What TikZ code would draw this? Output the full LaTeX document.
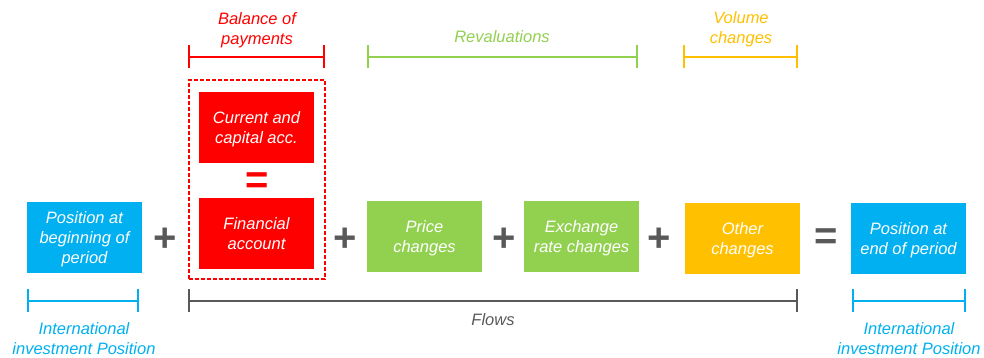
\documentclass[tikz,border=0pt]{standalone}
\usepackage{fontspec}
\setmainfont{Liberation Sans}
\usetikzlibrary{positioning,arrows.meta}
\definecolor{iipblue}{HTML}{00B0F0}
\definecolor{bopred}{HTML}{FF0000}
\definecolor{revgreen}{HTML}{92D050}
\definecolor{volorange}{HTML}{FFC000}
\definecolor{flowgrey}{HTML}{595959}

\begin{document}
\begin{tikzpicture}[x=1pt,y=1pt,line width=2pt,
	box/.style={minimum width=115pt,minimum height=71pt,inner sep=0pt,outer sep=0pt,
		text depth=0pt,align=center,text=white,font=\itshape\fontsize{16.5}{20}\selectfont},
	op/.style={inner sep=0pt,font=\bfseries\fontsize{40}{40}\selectfont},
	caption/.style={align=center,font=\itshape\fontsize{16.5}{20}\selectfont},
	span/.style={{Bar[width=23pt]}-{Bar[width=23pt]}}]
\useasboundingbox (0,0) rectangle (984,358);
\node[box,fill=iipblue] (start) at (84.5,120.5) {Position at\\beginning of\\period};
\node[box,fill=bopred] (current) at (256.5,230.5) {Current and\\capital acc.};
\node[box,fill=bopred] (financial) [below=35pt of current] {Financial\\account};
\node[op,text=bopred] (bopeq) at (257,175) {=};
\draw[bopred,line width=1.5pt,dash pattern=on 4pt off 2pt] (189,79) rectangle (325,278);
\node[box,fill=revgreen] (price) at (424.5,121.5) {Price\\changes};
\node[box,fill=revgreen] (exchange) [right=42pt of price] {Exchange\\rate changes};
\node[box,fill=volorange] (other) [right=46pt of exchange,yshift=-2pt] {Other\\changes};
\node[box,fill=iipblue] (end) [right=51pt of other] {Position at\\end of period};
\node[op,text=flowgrey] (plusa) at (165.5,118) {+};
\node[op,text=flowgrey] (plusb) at (345,118) {+};
\node[op,text=flowgrey] (plusc) at (504,118) {+};
\node[op,text=flowgrey] (plusd) at (659,118) {+};
\node[op,text=flowgrey] (equals) at (826,119) {=};
\coordinate (bopa) at (188,301);
\coordinate (bopb) at (325,301);
\coordinate (reva) at (367,301);
\coordinate (revb) at (638,301);
\coordinate (vola) at (683,301);
\coordinate (volb) at (798,301);
\coordinate (flowa) at (188,57);
\coordinate (flowb) at (798,57);
\coordinate (iipa) at (27,57);
\coordinate (iipb) at (139,57);
\coordinate (iipc) at (852,57);
\coordinate (iipd) at (966,57);
\draw[span,bopred] (bopa) -- (bopb);
\draw[span,revgreen] (reva) -- (revb);
\draw[span,volorange] (vola) -- (volb);
\draw[span,flowgrey] (flowa) -- (flowb);
\draw[span,iipblue] (iipa) -- (iipb);
\draw[span,iipblue] (iipc) -- (iipd);
\node[caption,text=bopred] (bop) at (257,328) {Balance of\\payments};
\node[caption,text=revgreen] (reval) at (502,321) {Revaluations};
\node[caption,text=volorange] (volume) at (741,329) {Volume\\changes};
\node[caption,text=flowgrey] (flows) at (493,38) {Flows};
\node[caption,text=iipblue] (iipleft) at (84,19) {International\\investment Position};
\node[caption,text=iipblue] (iipright) at (909,19) {International\\investment Position};
\end{tikzpicture}
\end{document}
